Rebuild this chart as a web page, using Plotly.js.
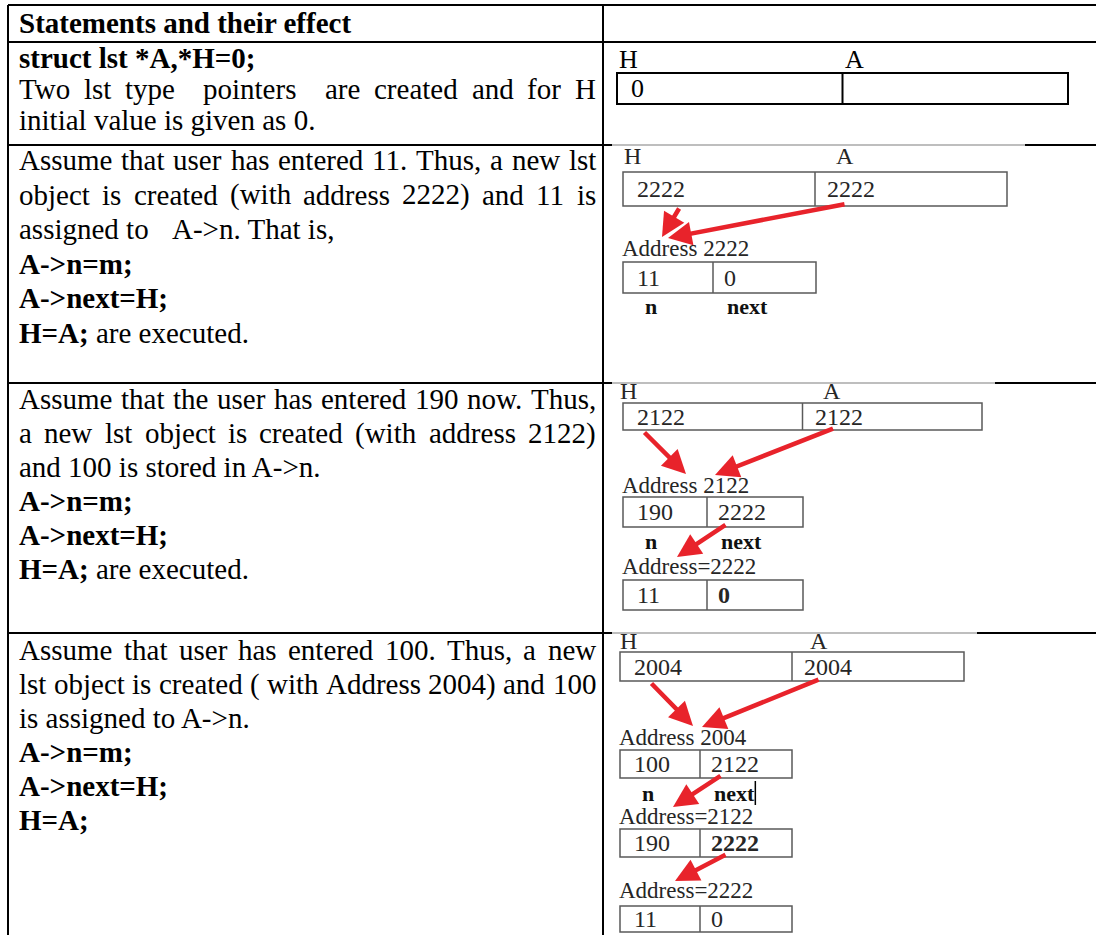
<!DOCTYPE html>
<html><head><meta charset="utf-8">
<script src="https://cdn.plot.ly/plotly-3.0.1.min.js"></script>
<style>html,body{margin:0;padding:0;background:#fff}</style>
</head><body>
<div id="chart" style="width:1096px;height:935px"></div>
<script>
// ---------------- DATA ----------------
const headerTitle = "Statements and their effect";

const row1Lines = ["**struct lst *A,*H=0;**", "Two lst type  pointers  are created and for H", "initial value is given as 0."];
const row1Justify = [false, true, false];

const row2Lines = ["Assume that user has entered 11. Thus, a new lst", "object is created (with address 2222) and 11 is", "assigned to\tA->n. That is,", "**A->n=m;**", "**A->next=H;**", "**H=A;** are executed."];
const row2Justify = [true, true, false, false, false, false];

const row3Lines = ["Assume that the user has entered 190 now. Thus,", "a new lst object is created (with address 2122)", "and 100 is stored in A->n.", "**A->n=m;**", "**A->next=H;**", "**H=A;** are executed."];
const row3Justify = [true, true, false, false, false, false];

const row4Lines = ["Assume that user has entered 100. Thus, a new", "lst object is created ( with Address 2004) and 100", "is assigned to A->n.", "**A->n=m;**", "**A->next=H;**", "**H=A;**"];
const row4Justify = [true, true, false, false, false, false];

const pointerNames = ["H", "A"];
const fieldNames = ["**n**", "**next**"];

const step0Pointers = ["0", ""];
const step1Pointers = ["2222", "2222"];
const step1Nodes = [["Address 2222", "11", "0"]];
const step2Pointers = ["2122", "2122"];
const step2Nodes = [["Address 2122", "190", "2222"], ["Address=2222", "11", "**0**"]];
const step3Pointers = ["2004", "2004"];
const step3Nodes = [["Address 2004", "100", "2122"], ["Address=2122", "190", "**2222**"], ["Address=2222", "11", "0"]];

// ---------------- HELPERS ----------------
const FONT = 'Liberation Serif';
const W = 1096, H = 935;
const cv = document.createElement('canvas');
const ctx = cv.getContext('2d');
function measure(t, size, bold) {
  ctx.font = (bold ? 'bold ' : '') + size + 'px "' + FONT + '"';
  return ctx.measureText(t).width;
}
function md(s) { return s.replace(/\*\*(.+?)\*\*/g, '<b>$1</b>'); }
function strip(s) { return s.replace(/\*\*/g, ''); }

const ann = [];
const shapes = [];
function addText(x, y, text, size, color) {
  ann.push({x: x, y: y, xref: 'x', yref: 'y', text: md(text), showarrow: false,
    xanchor: 'left', yanchor: 'middle', borderpad: 0, borderwidth: 0,
    font: {family: FONT, size: size, color: color}});
}
function line(x0, y0, x1, y1, color, w) {
  shapes.push({type: 'line', xref: 'x', yref: 'y', x0: x0, y0: y0, x1: x1, y1: y1,
    line: {color: color, width: w}});
}
function rect(x0, y0, x1, y1, color, w) {
  shapes.push({type: 'rect', xref: 'x', yref: 'y', x0: x0, y0: y0, x1: x1, y1: y1,
    line: {color: color, width: w}, fillcolor: 'rgba(0,0,0,0)'});
}
function arrow(tx, ty, hx, hy) {
  ann.push({x: hx, y: hy, ax: tx, ay: ty, xref: 'x', yref: 'y', axref: 'x', ayref: 'y',
    text: '', showarrow: true, arrowhead: 2, arrowsize: 1.05, arrowwidth: 4.5,
    arrowcolor: '#e8232b', standoff: 0, startstandoff: 0});
}

// ---------------- TABLE GRID ----------------
const leftX = 8, divX = 603;
const rowTops = [5, 42, 145, 383, 633];
const imgRight = [null, null, 1025, 995, 977];
rowTops.forEach((y, i) => {
  if (imgRight[i]) {
    line(leftX, y, 612, y, '#000', 2);
    line(612, y, imgRight[i], y, '#a8a8a8', 1.5);
    line(imgRight[i], y, W, y, '#000', 2);
  } else {
    line(leftX, y, W, y, '#000', 2);
  }
});
line(leftX, rowTops[0], leftX, H, '#000', 2);
line(divX, rowTops[0], divX, H, '#000', 2);

// ---------------- LEFT COLUMN TEXT ----------------
const TFS = 29, colL = 19, colR = 596, tabX = 172;
const firstLine = [58, 160, 399, 650];
const lineStep = [31, 34.5, 34, 34];
addText(colL, rowTops[0] + 18, '**' + headerTitle + '**', TFS, '#000');
const rows = [[row1Lines, row1Justify], [row2Lines, row2Justify], [row3Lines, row3Justify], [row4Lines, row4Justify]];
rows.forEach((r, ri) => {
  r[0].forEach((ln, i) => {
    const y = firstLine[ri] + lineStep[ri] * i;
    if (r[1][i]) {
      // justified: every single space stretches by the same amount
      const toks = strip(ln).split(' ');
      const sp = measure(' ', TFS, false);
      const ws = toks.map(w => measure(w, TFS, false));
      const nat = ws.reduce((a, b) => a + b, 0) + sp * (toks.length - 1);
      const extra = (colR - colL - nat) / (toks.length - 1);
      let x = colL;
      toks.forEach((w, k) => {
        if (w) addText(x, y, w, TFS, '#000');
        x += ws[k] + sp + extra;
      });
    } else if (ln.indexOf('\t') >= 0) {
      const p = ln.split('\t');
      addText(colL, y, p[0], TFS, '#000');
      addText(tabX, y, p[1], TFS, '#000');
    } else {
      addText(colL, y, ln, TFS, '#000');
    }
  });
});

// ---------------- DIAGRAMS ----------------
function diagram(g, ptrs, nodes) {
  const c = g.color, fs = g.fs;
  const mid = (g.bx0 + g.bx1) / 2;
  addText(g.hX, g.labelY, pointerNames[0], fs, c);
  addText(mid + g.aDx, g.labelY, pointerNames[1], fs, c);
  rect(g.bx0, g.by0, g.bx1, g.by1, g.lc, g.lw);
  line(mid, g.by0, mid, g.by1, g.lc, g.lw);
  const vy = (g.by0 + g.by1) / 2;
  addText(g.bx0 + 14, vy, ptrs[0], fs, c);
  if (ptrs[1]) addText(mid + 12, vy, ptrs[1], fs, c);
  if (!nodes) return;
  nodes.forEach((nd, i) => {
    const ng = g.nodes[i];
    addText(g.nx0 - 1, ng.ly, nd[0], fs - 1, c);
    rect(g.nx0, ng.y0, g.nx1, ng.y1, g.lc, g.lw);
    line(g.nm, ng.y0, g.nm, ng.y1, g.lc, g.lw);
    const ny = (ng.y0 + ng.y1) / 2;
    addText(g.nx0 + 14, ny, nd[1], fs, c);
    addText(g.nm + 11, ny, nd[2], fs, c);
  });
  // field labels under first node
  const ffs = fs - 2;
  addText(g.nx0 + 22, g.fy, fieldNames[0], ffs, '#111');
  addText(g.nm + 14, g.fy, fieldNames[1], ffs, '#111');
  if (g.cursor) {
    const cx = g.nm + 14 + measure(strip(fieldNames[1]), ffs, true) + 1;
    line(cx, g.fy - 12, cx, g.fy + 12, '#000', 1.5);
  }
  // pointer arrows into first node
  const h0 = g.nodes[0].ly - 11;
  arrow(g.bx0 + g.ah[0], g.by1 + 1, g.nx0 + g.ah[1], h0);
  arrow(mid + g.aa[0], g.by1 - 2, g.nx0 + g.aa[1], h0 + 1);
  // next arrows between nodes
  for (let i = 0; i + 1 < nodes.length; i++) {
    const a = g.na[i];
    arrow(g.nm + a[0], g.nodes[i].y1 - 3, g.nx0 + a[1], g.nodes[i + 1].ly - 9);
  }
}

// row 1 (struct declaration) - crisp drawing
diagram({color: '#000', lc: '#000', lw: 2, fs: 26, labelY: 59, hX: 619, aDx: 2,
  bx0: 617, bx1: 1068, by0: 73, by1: 104}, step0Pointers, null);

const IMGC = '#262626', IMGL = '#5a5a5a';
diagram({color: IMGC, lc: IMGL, lw: 1.5, fs: 24, labelY: 156, hX: 624, aDx: 21,
  bx0: 623, bx1: 1007, by0: 172, by1: 206,
  nx0: 623, nx1: 816, nm: 713, nodes: [{ly: 248, y0: 262, y1: 293}], fy: 306,
  ah: [57, 39], aa: [31, 45], na: []}, step1Pointers, step1Nodes);

diagram({color: IMGC, lc: IMGL, lw: 1.5, fs: 24, labelY: 391, hX: 620, aDx: 20,
  bx0: 623, bx1: 982, by0: 403, by1: 430,
  nx0: 623, nx1: 803, nm: 707, nodes: [{ly: 485, y0: 497, y1: 527}, {ly: 566, y0: 580, y1: 610}], fy: 541,
  ah: [20, 63], aa: [32, 92], na: [[20, 54]]}, step2Pointers, step2Nodes);

diagram({color: IMGC, lc: IMGL, lw: 1.5, fs: 24, labelY: 641, hX: 620, aDx: 18,
  bx0: 620, bx1: 964, by0: 652, by1: 681,
  nx0: 620, nx1: 792, nm: 700, nodes: [{ly: 737, y0: 750, y1: 778}, {ly: 816, y0: 829, y1: 857}, {ly: 890, y0: 906, y1: 932}], fy: 793,
  ah: [30, 73], aa: [28, 82], na: [[22, 53], [27, 55]], cursor: true}, step3Pointers, step3Nodes);

// ---------------- PLOT ----------------
const layout = {
  width: W, height: H, margin: {l: 0, r: 0, t: 0, b: 0, pad: 0},
  paper_bgcolor: '#fff', plot_bgcolor: '#fff', showlegend: false,
  xaxis: {range: [0, W], visible: false, fixedrange: true},
  yaxis: {range: [H, 0], visible: false, fixedrange: true},
  shapes: shapes, annotations: ann
};
Plotly.newPlot('chart', [{x: [0], y: [0], type: 'scatter', mode: 'markers',
  marker: {opacity: 0}, hoverinfo: 'skip'}], layout, {staticPlot: true, displayModeBar: false});
</script>
</body></html>
